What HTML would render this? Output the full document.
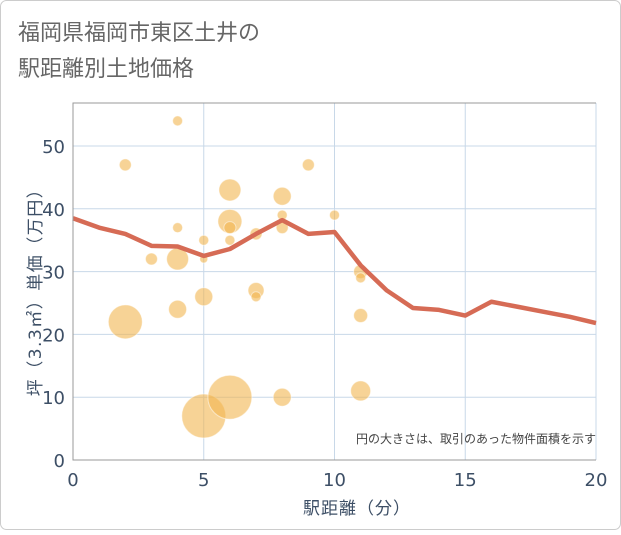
<!DOCTYPE html>
<html><head><meta charset="utf-8"><style>
body{margin:0;background:#fff;font-family:"Liberation Sans","Noto Sans CJK JP",sans-serif}
#c{position:relative;width:621px;height:530px}
</style></head><body>
<div id="c">
<svg id="s" width="621" height="530" xmlns="http://www.w3.org/2000/svg" font-family="DejaVu Sans, Noto Sans CJK JP, sans-serif">
<rect x="0.5" y="0.5" width="620" height="529" rx="6" fill="#fff" stroke="#ccc"/>
<text x="18" y="40" font-size="22" fill="#666" font-family="Noto Sans CJK JP, sans-serif">福岡県福岡市東区土井の</text>
<text x="18" y="76" font-size="22" fill="#666" font-family="Noto Sans CJK JP, sans-serif">駅距離別土地価格</text>
<g id="grid"></g><g id="marks"></g><g id="axes"></g>
<text x="596" y="443" font-size="12" fill="#444" text-anchor="end" font-family="Noto Sans CJK JP, sans-serif">円の大きさは、取引のあった物件面積を示す</text>
<text x="357" y="514" font-size="17" fill="#3d4f66" text-anchor="middle" letter-spacing="1" font-family="Noto Sans CJK JP, sans-serif">駅距離（分）</text>
<text transform="translate(41,288) rotate(-90)" font-size="17" fill="#3d4f66" text-anchor="middle" letter-spacing="1.5" font-family="DejaVu Sans, Noto Sans CJK JP, sans-serif">坪（3.3㎡）単価（万円）</text>
</svg></div>
<script>
const xTicks=[0,5,10,15,20];
const yTicks=[0,10,20,30,40,50];
const bubX=[2,4,2,3,4,4,4,5,5,5,5,6,6,6,6,6,7,7,7,8,8,8,8,9,10,11,11,11,11];
const bubY=[47,54,22,32,37,32,24,35,32,26,7,43,38,37,35,10,36,27,26,42,39,37,10,47,39,30,29,23,11];
const bubR=[6,5,17,6,5,11,9,5,4,9,22,11,12,6,5,22,6,8,5,9,5,6,9,6,5,7,5,7,10];
const lineX=[0,1,2,3,4,5,6,7,8,9,10,11,12,13,14,15,16,17,18,19,20];
const lineY=[38.5,37,36,34.1,34,32.5,33.6,36,38.2,36,36.3,31,27,24.2,23.9,23,25.2,24.4,23.6,22.8,21.8];
const L=73,R=596,T=103,B=460;
const sx=v=>L+v*(R-L)/20, sy=v=>B-v*6.28;
const NS="http://www.w3.org/2000/svg";
function mk(p,t,a){const e=document.createElementNS(NS,t);for(const k in a)e.setAttribute(k,a[k]);p.appendChild(e);return e;}
const g=document.getElementById('grid'),m=document.getElementById('marks'),ax=document.getElementById('axes');
xTicks.forEach(v=>{const l=mk(g,'line',{x1:sx(v),x2:sx(v),y1:T,y2:B,stroke:'#c8d8e8'});


const t=mk(ax,'text',{x:sx(v),y:B+26,'font-size':18,fill:'#3d4f66','text-anchor':'middle'});t.textContent=v;

});
yTicks.forEach(v=>{const l=mk(g,'line',{x1:L,x2:R,y1:sy(v),y2:sy(v),stroke:'#c8d8e8'});


const t=mk(ax,'text',{x:L-8,y:sy(v)+7,'font-size':18,fill:'#3d4f66','text-anchor':'end'});t.textContent=v;

});
const f=mk(ax,'path',{d:`M${R},${T}H${L}V${B}H${R}`,fill:'none',stroke:'#999'});


bubX.forEach((x,i)=>{const c=mk(m,'circle',{cx:sx(x),cy:sy(bubY[i]),r:bubR[i],fill:'#f2b650','fill-opacity':0.6,stroke:'#fff','stroke-opacity':0.5});

});
const p=mk(m,'polyline',{points:lineX.map((x,i)=>sx(x)+','+sy(lineY[i])).join(' '),fill:'none',stroke:'#d66b55','stroke-width':4.5,'stroke-linejoin':'round'});


</script></body></html>
